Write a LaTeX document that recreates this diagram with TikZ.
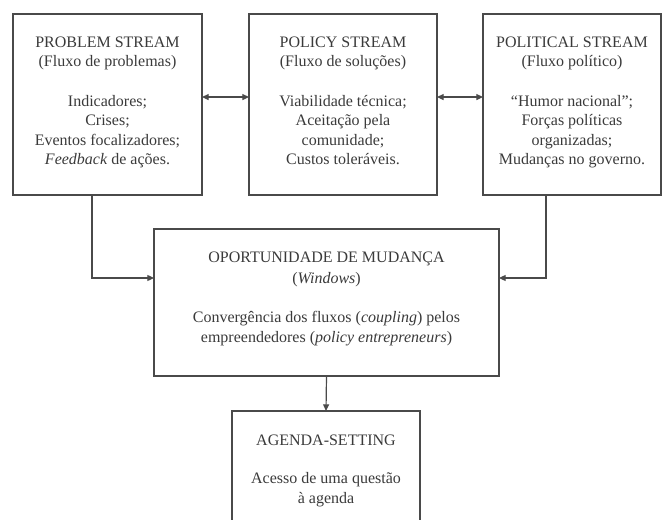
\documentclass[tikz,border=0pt]{standalone}
\usepackage{fontspec}
\setmainfont{Liberation Serif}
\usetikzlibrary{arrows.meta}
\definecolor{ink}{HTML}{3A3A3A}
\definecolor{edge}{HTML}{4A4A4A}
\begin{document}
\begin{tikzpicture}[x=0.75pt,y=-0.75pt,
  box/.style={draw=edge,line width=0.9pt,inner sep=0pt,outer sep=0pt},
  txt/.style={text=ink,align=center,inner sep=0pt,anchor=north,font=\fontsize{12}{14.6}\selectfont},
  conn/.style={draw=edge,line width=0.9pt,-{Triangle[length=5pt,width=4.5pt]}},
  biconn/.style={draw=edge,line width=0.9pt,{Triangle[length=5pt,width=4.5pt]}-{Triangle[length=5pt,width=4.5pt]}}]
\useasboundingbox (0,0) rectangle (663,520);
% boxes
\node[box,minimum width=141.75pt,minimum height=135.75pt] (p1) at (107.5,104.5) {};
\node[box,minimum width=141pt,minimum height=135.75pt] (p2) at (343,104.5) {};
\node[box,minimum width=133.5pt,minimum height=135.75pt] (p3) at (572,104.5) {};
\node[box,minimum width=258.75pt,minimum height=110.25pt] (opp) at (326.5,302.5) {};
\node[inner sep=0pt,outer sep=0pt,minimum width=141pt,minimum height=81.75pt] (agenda) at (326,465.5) {};
\draw[draw=edge,line width=0.9pt] (agenda.south west) -- (agenda.north west) -- (agenda.north east) -- (agenda.south east);
% texts
\node[txt] (t1) at (107.5,36.5) {PROBLEM STREAM\\(Fluxo de problemas)\\[15pt]Indicadores;\\Crises;\\Eventos focalizadores;\\\textit{Feedback} de ações.};
\node[txt] (t2) at (343,36.5) {POLICY STREAM\\(Fluxo de soluções)\\[15pt]Viabilidade técnica;\\Aceitação pela\\comunidade;\\Custos toleráveis.};
\node[txt] (t3) at (572,36.5) {POLITICAL STREAM\\(Fluxo político)\\[15pt]``Humor nacional'';\\Forças políticas\\organizadas;\\Mudanças no governo.};
\node[txt,font=\fontsize{12}{15.5}\selectfont] (t4) at (326.5,252) {OPORTUNIDADE DE MUDANÇA\\(\textit{Windows})\\[13.5pt]Convergência dos fluxos (\textit{coupling}) pelos\\empreendedores (\textit{policy entrepreneurs})};
\node[txt,font=\fontsize{12}{15}\selectfont] (t5) at (326,435) {AGENDA-SETTING\\[13.5pt]Acesso de uma questão\\à agenda};
% connectors
\draw[biconn] ([yshift=5.6pt]p1.east) -- ([yshift=5.6pt]p2.west);
\draw[biconn] ([yshift=5.6pt]p2.east) -- ([yshift=5.6pt]p3.west);
\coordinate (cl) at (92,278);
\coordinate (cr) at (546,278);
\draw[conn] (p1.south -| cl) -- (cl) -- (opp.west |- cl);
\draw[conn] (p3.south -| cr) -- (cr) -- (opp.east |- cr);
\draw[conn] (opp.south) -- (agenda.north);
\end{tikzpicture}
\end{document}
